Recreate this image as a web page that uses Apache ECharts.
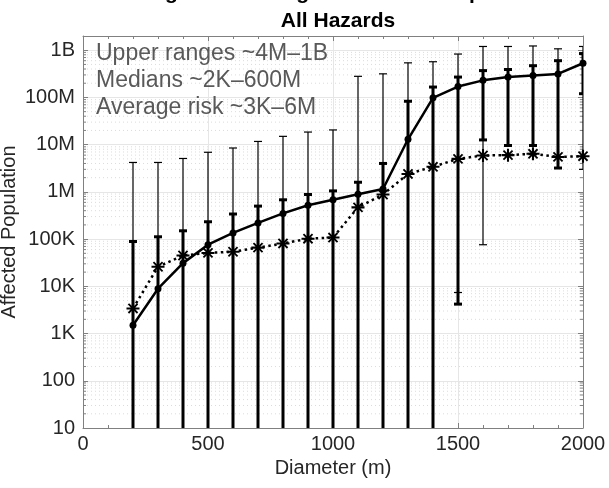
<!DOCTYPE html>
<html><head><meta charset="utf-8">
<script src="https://cdn.jsdelivr.net/npm/echarts/dist/echarts.min.js"></script>
<style>html,body{margin:0;padding:0;background:#fff}#c{width:609px;height:488px}</style>
</head><body><div id="c"></div>
<script>
// ---- data ----
const diameters = [200,300,400,500,600,700,800,900,1000,1100,1200,1300,1400,1500,1600,1700,1800,1900,2000];
const medians   = [1.5e3,8.9e3,3.1e4,7.6e4,1.35e5,2.2e5,3.5e5,5.2e5,6.8e5,8.9e5,1.15e6,1.3e7,9.8e7,1.7e8,2.3e8,2.7e8,2.9e8,3.15e8,5.3e8];
const averages  = [3.4e3,2.6e4,4.5e4,5.1e4,5.4e4,6.6e4,8.1e4,1.02e5,1.08e5,4.7e5,8.8e5,2.4e6,3.4e6,5.0e6,5.9e6,6.0e6,6.4e6,5.5e6,5.7e6];
// full (thin) ranges
const rangeLow  = [1,1,1,1,1,1,1,1,1,1,1,1,1,7.4e3,7.6e4,9.6e6,9.6e6,3.2e6,3.0e6];
const rangeHigh = [4.2e6,4.2e6,5.1e6,6.9e6,8.5e6,1.17e7,1.5e7,1.85e7,2.05e7,2.8e8,3.16e8,5.4e8,5.7e8,8.3e8,1.2e9,1.2e9,1.23e9,1.07e9,1.2e9];
// central (thick) ranges
const coreLow   = [1,1,1,1,1,1,1,1,1,1,1,1,1,4.2e3,1.26e7,9.6e6,9.6e6,3.2e6,1.2e8];
const coreHigh  = [8.9e4,1.12e5,1.5e5,2.33e5,3.4e5,5.0e5,6.8e5,8.8e5,1.05e6,1.6e6,4.0e6,8.3e7,1.66e8,2.7e8,3.7e8,3.9e8,4.7e8,6.0e8,8.5e8];
// axis tick labels
const yTickValues = [10,100,1e3,1e4,1e5,1e6,1e7,1e8,1e9];
const yTickLabels = ['10','100','1K','10K','100K','1M','10M','100M','1B'];
const xTickLabels = ['0','500','1000','1500','2000'];
const annotation = ['Upper ranges ~4M\u20131B','Medians ~2K\u2013600M','Average risk ~3K\u20136M'];

const FONT = 'Liberation Sans, Arial, Helvetica, sans-serif';
const X_MIN = 0, X_MAX = 2000, Y_MIN = 10, Y_MAX = 2e9;

// minor log grid values (2..9 x decade)
const minorVals = [];
for (let k = 1; k <= 9; k++) for (let m = 2; m <= 9; m++) { const v = m * Math.pow(10, k); if (v < Y_MAX) minorVals.push(v); }

function zip3(a, b, c) { return a.map((v, i) => [v, b[i], c[i]]); }

function errRenderer(lw, capW) {
  return function (params, api) {
    const x = api.value(0), lo = api.value(1), hi = api.value(2);
    const pLo = api.coord([x, lo]), pHi = api.coord([x, hi]);
    const st = { stroke: '#000', lineWidth: lw, lineCap: 'butt' };
    return { type: 'group', children: [
      { type: 'line', shape: { x1: pLo[0], y1: pLo[1], x2: pHi[0], y2: pHi[1] }, style: st },
      { type: 'line', shape: { x1: pHi[0] - capW / 2, y1: pHi[1], x2: pHi[0] + capW / 2, y2: pHi[1] }, style: st },
      { type: 'line', shape: { x1: pLo[0] - capW / 2, y1: pLo[1], x2: pLo[0] + capW / 2, y2: pLo[1] }, style: st }
    ]};
  };
}

const asterisk = 'path://M0,42L100,42L100,58L0,58Z M42,0L58,0L58,100L42,100Z M20,10L90,80L80,90L10,20Z M80,10L90,20L20,90L10,80Z';

const chart = echarts.init(document.getElementById('c'), null, { renderer: 'canvas' });
chart.setOption({
  animation: false,
  backgroundColor: '#fff',
  textStyle: { fontFamily: FONT },
  title: [
    { text: 'Range and Average of Affected Population', left: 333, textAlign: 'center', top: -22,
      textStyle: { fontFamily: FONT, fontSize: 21, fontWeight: 'bold', color: '#000' } },
    { text: 'All Hazards', left: 333, textAlign: 'center', top: 6,
      textStyle: { fontFamily: FONT, fontSize: 21, fontWeight: 'bold', color: '#000' } }
  ],
  grid: { left: 83, right: 26, top: 36, bottom: 60, containLabel: false, outerBoundsMode: 'none' },
  xAxis: [
    { type: 'value', min: X_MIN, max: X_MAX, interval: 500,
      name: 'Diameter (m)', nameLocation: 'middle', nameGap: 30, nameMoveOverlap: false,
      nameTextStyle: { fontFamily: FONT, fontSize: 20, color: '#262626' },
      axisLine: { show: true, onZero: false, lineStyle: { color: '#808080', width: 1 } },
      axisTick: { show: true, inside: true, length: 5, lineStyle: { color: '#808080' } },
      minorTick: { show: true, splitNumber: 5, length: 3, lineStyle: { color: '#808080' } },
      axisLabel: { fontFamily: FONT, fontSize: 20, color: '#262626', margin: 6,
        formatter: (v) => xTickLabels[Math.round(v / 500)] },
      splitLine: { show: true, lineStyle: { color: '#e6e6e6', width: 1 } }
    },
    { type: 'value', position: 'top', min: X_MIN, max: X_MAX, interval: 500,
      axisLine: { show: true, onZero: false, lineStyle: { color: '#808080', width: 1 } },
      axisTick: { show: true, inside: true, length: 5, lineStyle: { color: '#808080' } },
      minorTick: { show: true, splitNumber: 5, length: 3, lineStyle: { color: '#808080' } },
      axisLabel: { show: false }, splitLine: { show: false }
    }
  ],
  yAxis: [
    { type: 'log', logBase: 10, min: Y_MIN, max: Y_MAX, splitNumber: 5,
      name: 'Affected Population', nameLocation: 'middle', nameGap: 64, nameRotate: 90, nameMoveOverlap: false,
      nameTextStyle: { fontFamily: FONT, fontSize: 20, color: '#262626' },
      axisLine: { show: true, onZero: false, lineStyle: { color: '#808080', width: 1 } },
      axisTick: { show: true, inside: true, length: 5, lineStyle: { color: '#808080' } },
      axisLabel: { fontFamily: FONT, fontSize: 20, color: '#262626', margin: 8,
        formatter: (v) => { const i = yTickValues.findIndex(t => Math.abs(t - v) / t < 1e-6); return i >= 0 ? yTickLabels[i] : ''; } },
      splitLine: { show: true, lineStyle: { color: '#e6e6e6', width: 1 } }
    },
    { type: 'log', logBase: 10, position: 'right', min: Y_MIN, max: Y_MAX, splitNumber: 5,
      axisLine: { show: true, onZero: false, lineStyle: { color: '#808080', width: 1 } },
      axisTick: { show: true, inside: true, length: 5, lineStyle: { color: '#808080' } },
      axisLabel: { show: false }, splitLine: { show: false }
    }
  ],
  graphic: [
    { type: 'text', left: 96, top: 40, z: 10,
      style: { text: annotation.join('\n'), font: '23px ' + FONT, fill: '#595959', lineHeight: 27 } }
  ],
  series: [
    { type: 'custom', name: 'minor grid', xAxisIndex: 0, yAxisIndex: 0, silent: true, z: 0,
      data: minorVals.map(v => [X_MIN, v]),
      renderItem: function (params, api) {
        const v = api.value(1);
        const p1 = api.coord([X_MIN, v]), p2 = api.coord([X_MAX, v]);
        return { type: 'group', children: [
          { type: 'line', shape: { x1: p1[0], y1: p1[1], x2: p2[0], y2: p2[1] }, style: { stroke: '#dcdcdc', lineWidth: 1, lineDash: [1, 3] } },
          { type: 'line', shape: { x1: p1[0], y1: p1[1], x2: p1[0] + 3, y2: p1[1] }, style: { stroke: '#808080', lineWidth: 1 } },
          { type: 'line', shape: { x1: p2[0] - 3, y1: p2[1], x2: p2[0], y2: p2[1] }, style: { stroke: '#808080', lineWidth: 1 } }
        ]};
      }
    },
    { type: 'custom', name: 'core range', clip: true, z: 2, data: zip3(diameters, coreLow, coreHigh), renderItem: errRenderer(3, 8) },
    { type: 'custom', name: 'full range', clip: true, z: 3, data: zip3(diameters, rangeLow, rangeHigh), renderItem: errRenderer(1.2, 8) },
    { type: 'line', name: 'Median', z: 4, data: diameters.map((d, i) => [d, medians[i]]),
      symbol: 'circle', symbolSize: 7, itemStyle: { color: '#000' },
      lineStyle: { color: '#000', width: 2.5 } },
    { type: 'line', name: 'Average risk', z: 5, data: diameters.map((d, i) => [d, averages[i]]),
      symbol: asterisk, symbolSize: 13, itemStyle: { color: '#000' },
      lineStyle: { color: '#000', width: 2.5, type: [2.5, 3.5] } }
  ]
});
</script>
</body></html>
